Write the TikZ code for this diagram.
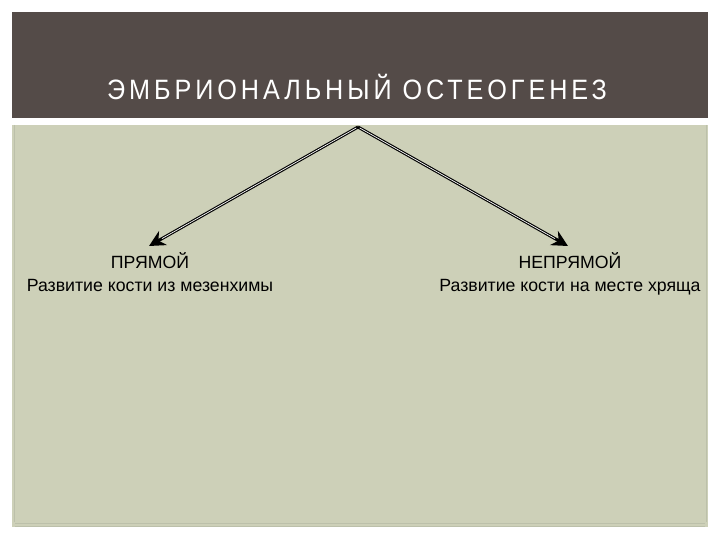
\documentclass[tikz,border=0pt]{standalone}
\usepackage{fontspec}
\setmainfont{Liberation Sans}
\newfontfamily\titlefont[LetterSpace=14, FakeStretch=0.9]{Liberation Sans}
\usetikzlibrary{positioning, arrows.meta}
\definecolor{bandgray}{RGB}{84,75,72}
\definecolor{panelgreen}{RGB}{205,208,184}
\definecolor{panelline}{RGB}{188,192,170}

\begin{document}
\begin{tikzpicture}[
    x=1pt, y=-1pt,
    branch/.style={align=center, font=\fontsize{17.7}{23}\selectfont, inner sep=0pt},
    arrow/.style={-{Stealth[length=16pt, width=16pt]}, draw=black, line width=3pt},
    arrowcore/.style={draw=white, line width=0.7pt, shorten >=15pt, shorten <=2pt}
]
    \useasboundingbox (0,0) rectangle (720,540);
    \fill[white] (0,0) rectangle (720,540);

    % Header
    \fill[bandgray] (12,12) rectangle (708,118);
    \node[text=white, font=\titlefont\fontsize{28}{32}\selectfont] (title) at (357,87) {ЭМБРИОНАЛЬНЫЙ ОСТЕОГЕНЕЗ};

    % Panel
    \fill[panelgreen] (12,125) rectangle (708,527);
    \draw[panelline, line width=0.8pt] (14,125) -- (14,522);
    \draw[panelline, line width=0.8pt] (706,125) -- (706,522);
    \draw[panelline, line width=0.8pt] (15,523) -- (705,523);
    \draw[panelline, line width=0.8pt] (15,526) -- (705,526);

    % Branches
    \coordinate (apex) at (358,127);
    \node[branch, anchor=north] (direct) at (150,252) {ПРЯМОЙ\\Развитие кости из мезенхимы};
    \node[branch, anchor=north] (indirect) at (570,252) {НЕПРЯМОЙ\\Развитие кости на месте хряща};
    \coordinate (directtip) at ([xshift=-1pt, yshift=6pt]direct.north);
    \coordinate (indirecttip) at ([xshift=-2pt, yshift=6pt]indirect.north);

    \draw[arrow] (apex) -- (directtip);
    \draw[arrow] (apex) -- (indirecttip);
    \draw[arrowcore] (apex) -- (directtip);
    \draw[arrowcore] (apex) -- (indirecttip);

\end{tikzpicture}
\end{document}
